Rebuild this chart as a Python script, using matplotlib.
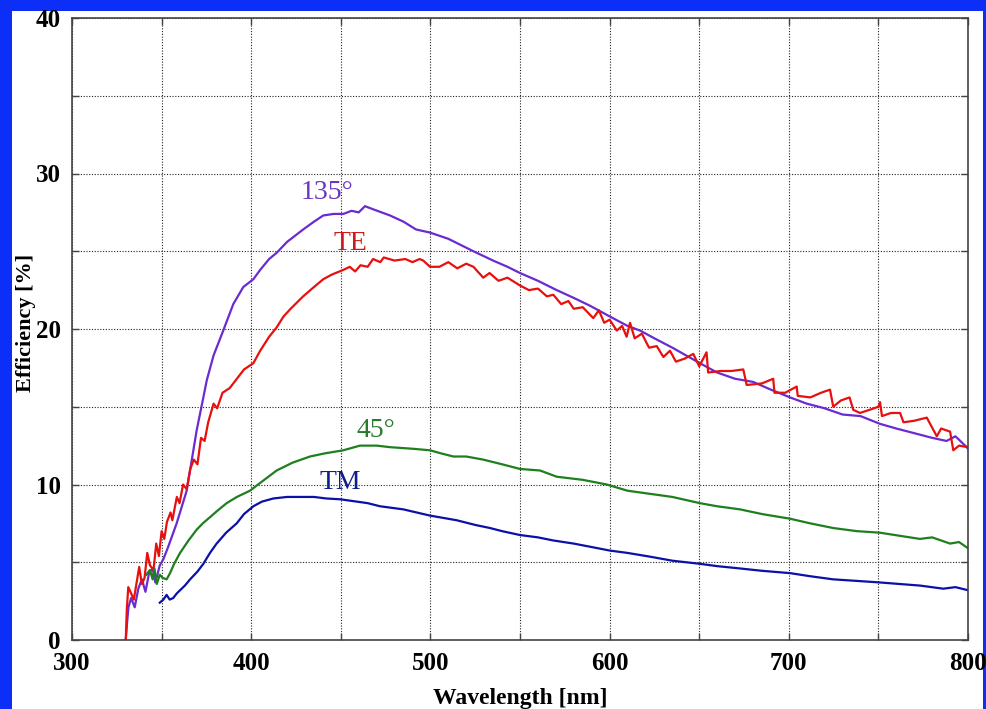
import matplotlib
matplotlib.use("Agg")
import matplotlib.pyplot as plt
from matplotlib.patches import Rectangle
from matplotlib.ticker import MultipleLocator

params = {
    "font.family": ["Liberation Serif", "DejaVu Serif"],
    "font.size": 18,
    "savefig.dpi": 100,
}
plt.rcParams.update(params)

# 135 degree curve (wavelength nm, efficiency %)
wl_135 = [330.0, 330.8, 331.5, 333.0, 335.0, 337.0, 339.0, 341.0, 343.0, 345.0,
          346.5, 349.0, 351.0, 353.7, 358.4, 364.0, 369.6, 373.3, 375.2, 379.0,
          384.4, 390.0, 395.6, 401.2, 405.0, 410.0, 414.2, 420.0, 429.0, 435.0,
          440.2, 446.0, 451.4, 456.0, 460.0, 463.5, 468.0, 477.5, 485.0, 492.0,
          499.8, 510.0, 517.0, 524.0, 535.0, 543.0, 550.0, 560.0, 570.5, 580.0,
          589.0, 600.2, 610.0, 617.0, 625.0, 635.0, 650.4, 660.0, 670.0, 680.0,
          690.0, 700.7, 710.0, 720.0, 730.0, 740.0, 750.9, 760.0, 770.0, 780.0,
          788.0, 793.0, 799.3, 800.0]
eff_135 = [0.0, 1.2, 2.1, 2.7, 2.1, 3.3, 3.9, 3.1, 4.3, 4.6,
           3.7, 4.8, 5.2, 6.0, 7.5, 9.6, 13.5, 15.6, 16.7, 18.3,
           19.9, 21.6, 22.7, 23.2, 23.8, 24.5, 24.9, 25.6, 26.4, 26.9,
           27.3, 27.4, 27.4, 27.6, 27.5, 27.9, 27.7, 27.3, 26.9, 26.4,
           26.2, 25.8, 25.4, 25.0, 24.4, 24.0, 23.6, 23.1, 22.5, 22.0,
           21.5, 20.8, 20.2, 19.9, 19.4, 18.8, 17.8, 17.2, 16.8, 16.6,
           16.1, 15.6, 15.2, 14.9, 14.5, 14.4, 13.9, 13.6, 13.3, 13.0,
           12.8, 13.1, 12.4, 12.3]

# TE curve
wl_te = [330.0, 330.6, 331.4, 333.0, 334.5, 336.5, 337.5, 339.0, 340.5, 342.0,
         343.5, 345.5, 347.0, 348.5, 350.0, 351.5, 353.0, 355.0, 356.0, 358.5,
         360.0, 362.0, 364.0, 366.0, 368.0, 370.0, 372.0, 374.0, 376.0, 379.0,
         381.0, 384.0, 388.0, 392.0, 396.0, 401.2, 405.0, 410.0, 414.2, 418.0,
         422.0, 429.0, 434.0, 440.2, 445.0, 451.4, 455.0, 458.0, 461.0, 465.0,
         468.0, 472.0, 474.0, 480.0, 486.0, 490.0, 494.0, 496.0, 499.8, 505.0,
         510.0, 515.0, 520.0, 524.0, 529.5, 533.0, 538.0, 543.0, 550.0, 555.0,
         560.0, 565.0, 568.6, 573.0, 577.0, 580.0, 585.0, 590.9, 594.0, 597.0,
         600.0, 604.0, 607.0, 609.5, 611.4, 614.0, 618.0, 622.0, 626.3, 630.0,
         633.7, 637.0, 642.0, 646.7, 650.0, 654.1, 655.0, 662.0, 668.0, 674.6,
         676.5, 685.0, 691.3, 692.0, 698.0, 704.4, 705.0, 712.0, 718.0, 723.0,
         724.8, 729.0, 733.9, 736.0, 739.7, 745.0, 750.0, 750.9, 752.0, 757.0,
         762.1, 764.0, 770.0, 777.0, 782.6, 785.0, 790.0, 791.8, 795.0, 800.0]
eff_te = [0.0, 2.0, 3.4, 3.0, 2.6, 4.0, 4.7, 3.6, 4.0, 5.6,
          4.8, 4.5, 6.2, 5.4, 7.0, 6.5, 7.6, 8.2, 7.7, 9.2,
          8.8, 10.0, 9.7, 11.0, 11.6, 11.3, 13.0, 12.8, 14.0, 15.2,
          14.9, 15.9, 16.2, 16.8, 17.4, 17.8, 18.6, 19.5, 20.1, 20.8,
          21.3, 22.1, 22.6, 23.2, 23.5, 23.8, 24.0, 23.7, 24.1, 24.0,
          24.5, 24.3, 24.6, 24.4, 24.5, 24.3, 24.5, 24.4, 24.0, 24.0,
          24.3, 23.9, 24.2, 24.0, 23.3, 23.6, 23.1, 23.3, 22.8, 22.5,
          22.6, 22.1, 22.2, 21.6, 21.8, 21.3, 21.4, 20.7, 21.2, 20.4,
          20.6, 19.9, 20.2, 19.5, 20.4, 19.4, 19.7, 18.8, 18.9, 18.2,
          18.6, 17.9, 18.1, 18.4, 17.6, 18.5, 17.2, 17.3, 17.3, 17.4,
          16.4, 16.5, 16.8, 15.9, 15.9, 16.3, 15.7, 15.6, 15.9, 16.1,
          15.0, 15.4, 15.6, 14.8, 14.6, 14.8, 15.0, 15.3, 14.4, 14.6,
          14.6, 14.0, 14.1, 14.3, 13.1, 13.6, 13.4, 12.2, 12.5, 12.4]

# 45 degree curve
wl_45 = [341.5, 343.5, 345.0, 346.0, 347.3, 349.0, 350.5, 352.8, 354.7, 357.0,
         360.3, 365.0, 369.6, 373.0, 377.0, 381.0, 386.3, 392.0, 399.3, 405.0,
         414.2, 423.0, 432.8, 441.0, 451.4, 460.7, 470.0, 477.5, 490.0, 499.8,
         506.0, 512.8, 520.0, 529.5, 540.0, 550.0, 561.2, 570.5, 585.0, 598.4,
         610.0, 622.5, 635.0, 650.4, 660.0, 672.8, 685.0, 700.7, 712.0, 724.8,
         738.0, 750.9, 762.0, 773.2, 780.0, 790.0, 795.0, 800.0]
eff_45 = [4.2, 4.5, 3.9, 4.6, 3.6, 4.2, 4.0, 3.9, 4.3, 4.9,
          5.6, 6.4, 7.1, 7.5, 7.9, 8.3, 8.8, 9.2, 9.6, 10.1,
          10.9, 11.4, 11.8, 12.0, 12.2, 12.5, 12.5, 12.4, 12.3, 12.2,
          12.0, 11.8, 11.8, 11.6, 11.3, 11.0, 10.9, 10.5, 10.3, 10.0,
          9.6, 9.4, 9.2, 8.8, 8.6, 8.4, 8.1, 7.8, 7.5, 7.2,
          7.0, 6.9, 6.7, 6.5, 6.6, 6.2, 6.3, 5.9]

# TM curve
wl_tm = [349.0, 351.0, 352.8, 354.5, 356.5, 358.5, 360.3, 363.0, 365.9, 370.0,
         373.3, 377.0, 380.7, 386.0, 391.9, 396.0, 401.2, 406.0, 412.3, 420.0,
         427.2, 435.0, 442.0, 449.6, 458.9, 465.0, 471.9, 484.9, 499.8, 514.7,
         525.0, 533.3, 540.0, 550.0, 560.0, 568.6, 580.0, 589.0, 600.2, 610.0,
         622.5, 635.0, 650.4, 660.0, 672.8, 685.0, 700.7, 712.0, 724.8, 738.0,
         750.9, 762.0, 773.2, 786.2, 793.0, 800.0]
eff_tm = [2.4, 2.6, 2.9, 2.6, 2.7, 3.0, 3.2, 3.5, 3.9, 4.4,
          4.9, 5.6, 6.2, 6.9, 7.5, 8.1, 8.6, 8.9, 9.1, 9.2,
          9.2, 9.2, 9.1, 9.05, 8.9, 8.8, 8.6, 8.4, 8.0, 7.7,
          7.4, 7.2, 7.0, 6.75, 6.6, 6.4, 6.2, 6.0, 5.75, 5.6,
          5.36, 5.1, 4.9, 4.75, 4.6, 4.45, 4.3, 4.1, 3.9, 3.8,
          3.7, 3.6, 3.5, 3.3, 3.4, 3.2]

labels = ["135°", "TE", "45°", "TM"]
label_x = [442.3, 455.1, 469.6, 449.6]
label_y = [28.8, 25.5, 13.5, 10.1]

fig = plt.figure(figsize=(9.86, 7.09), facecolor="#0d2ef7")
fig.patches.append(Rectangle((12 / 986, 0), 971 / 986, 698 / 709,
                             transform=fig.transFigure, facecolor="white",
                             edgecolor="none", zorder=-10))
ax = fig.add_axes([72 / 986, 69 / 709, 896 / 986, 622 / 709])

ax.plot(wl_135, eff_135, color="#6a2bd0", lw=1.6)
ax.plot(wl_te, eff_te, color="#e8100f", lw=1.6)
ax.plot(wl_45, eff_45, color="#1f7f1f", lw=1.6)
ax.plot(wl_tm, eff_tm, color="#0a10a8", lw=1.6)

label_colors = ["#6a35c0", "#d01818", "#2a7a2a", "#10208a"]
for t, x, y, c in zip(labels, label_x, label_y, label_colors):
    ax.text(x, y, t, color=c, fontsize=20, ha="center", va="center")

ax.set_xlim(300, 800)
ax.set_ylim(0, 40)
ax.xaxis.set_major_locator(MultipleLocator(100))
ax.xaxis.set_minor_locator(MultipleLocator(50))
ax.yaxis.set_major_locator(MultipleLocator(10))
ax.yaxis.set_minor_locator(MultipleLocator(5))
ax.grid(True, which="both", color="#222222", linestyle=(0, (1, 1.5)), lw=0.8)
ax.tick_params(which="both", direction="in", top=True, right=True,
               length=5, width=1, color="#444444")
ax.tick_params(axis="x", pad=9)
ax.tick_params(axis="y", pad=8)
for lab in ax.get_xticklabels() + ax.get_yticklabels():
    lab.set_fontweight("bold")
for s in ax.spines.values():
    s.set_color("#444444")
    s.set_linewidth(1.2)

ax.set_xlabel("Wavelength [nm]", fontsize=17, fontweight="bold", labelpad=9)
ax.set_ylabel("Efficiency [%]", fontsize=16, fontweight="bold")
ax.yaxis.set_label_coords(-0.040, 0.51)

plt.savefig("out.png", dpi=100, facecolor=fig.get_facecolor())
